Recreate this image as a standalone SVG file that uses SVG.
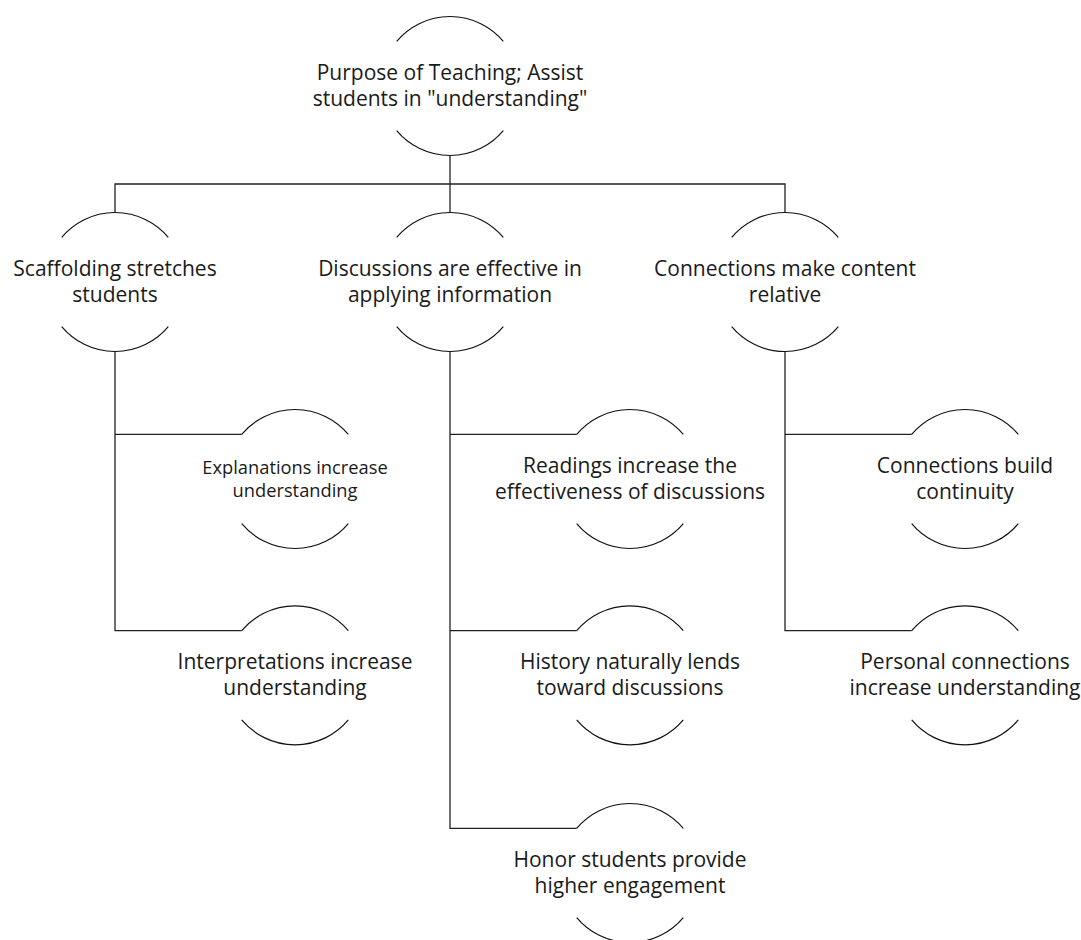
<svg xmlns="http://www.w3.org/2000/svg" width="1081" height="940" viewBox="0 0 1081 940">
<style>
.arc{fill:none;stroke:#111;stroke-width:1.2}
.ln{fill:none;stroke:#222;stroke-width:1.3}
.lb{font-family:"Open Sans","Liberation Sans",sans-serif;font-size:21px;fill:#1a1a1a;text-anchor:middle}
.sm{font-size:18.3px}
</style>
<defs>
<path id="shape" class="arc" d="M-53.3,-44.6 A69.5,69.5 0 0 1 53.3,-44.6 M-53.3,44.6 A69.5,69.5 0 0 0 53.3,44.6"/>
</defs>
<rect width="1081" height="940" fill="#fff"/>
<g id="connectors" class="ln">
<path d="M450,155.5 V184 M115,213 V184 H785 V213 M450,184 V213"/>
<path d="M115,351.5 V630.7 H241.7 M115,434.4 H241.7"/>
<path d="M450,351.5 V828.4 H576.7 M450,434.4 H576.7 M450,630.7 H576.7"/>
<path d="M785,351.5 V630.7 H911.7 M785,434.4 H911.7"/>
</g>
<g id="n-root" transform="translate(450,86)"><use href="#shape"/><text class="lb"><tspan x="0" y="-6">Purpose of Teaching; Assist</tspan><tspan x="0" y="19.5">students in "understanding"</tspan></text></g>
<g id="n-scaffolding" transform="translate(115,282)"><use href="#shape"/><text class="lb"><tspan x="0" y="-6">Scaffolding stretches</tspan><tspan x="0" y="19.5">students</tspan></text></g>
<g id="n-discussions" transform="translate(450,282)"><use href="#shape"/><text class="lb"><tspan x="0" y="-6">Discussions are effective in</tspan><tspan x="0" y="19.5">applying information</tspan></text></g>
<g id="n-connections" transform="translate(785,282)"><use href="#shape"/><text class="lb"><tspan x="0" y="-6">Connections make content</tspan><tspan x="0" y="19.5">relative</tspan></text></g>
<g id="n-explanations" transform="translate(295,479)"><use href="#shape"/><text class="lb sm"><tspan x="0" y="-5">Explanations increase</tspan><tspan x="0" y="18">understanding</tspan></text></g>
<g id="n-interpretations" transform="translate(295,675.3)"><use href="#shape"/><text class="lb"><tspan x="0" y="-6">Interpretations increase</tspan><tspan x="0" y="19.5">understanding</tspan></text></g>
<g id="n-readings" transform="translate(630,479)"><use href="#shape"/><text class="lb"><tspan x="0" y="-6">Readings increase the</tspan><tspan x="0" y="19.5">effectiveness of discussions</tspan></text></g>
<g id="n-history" transform="translate(630,675.3)"><use href="#shape"/><text class="lb"><tspan x="0" y="-6">History naturally lends</tspan><tspan x="0" y="19.5">toward discussions</tspan></text></g>
<g id="n-honor" transform="translate(630,873)"><use href="#shape"/><text class="lb"><tspan x="0" y="-6">Honor students provide</tspan><tspan x="0" y="19.5">higher engagement</tspan></text></g>
<g id="n-continuity" transform="translate(965,479)"><use href="#shape"/><text class="lb"><tspan x="0" y="-6">Connections build</tspan><tspan x="0" y="19.5">continuity</tspan></text></g>
<g id="n-personal" transform="translate(965,675.3)"><use href="#shape"/><text class="lb"><tspan x="0" y="-6">Personal connections</tspan><tspan x="0" y="19.5">increase understanding</tspan></text></g>
</svg>
